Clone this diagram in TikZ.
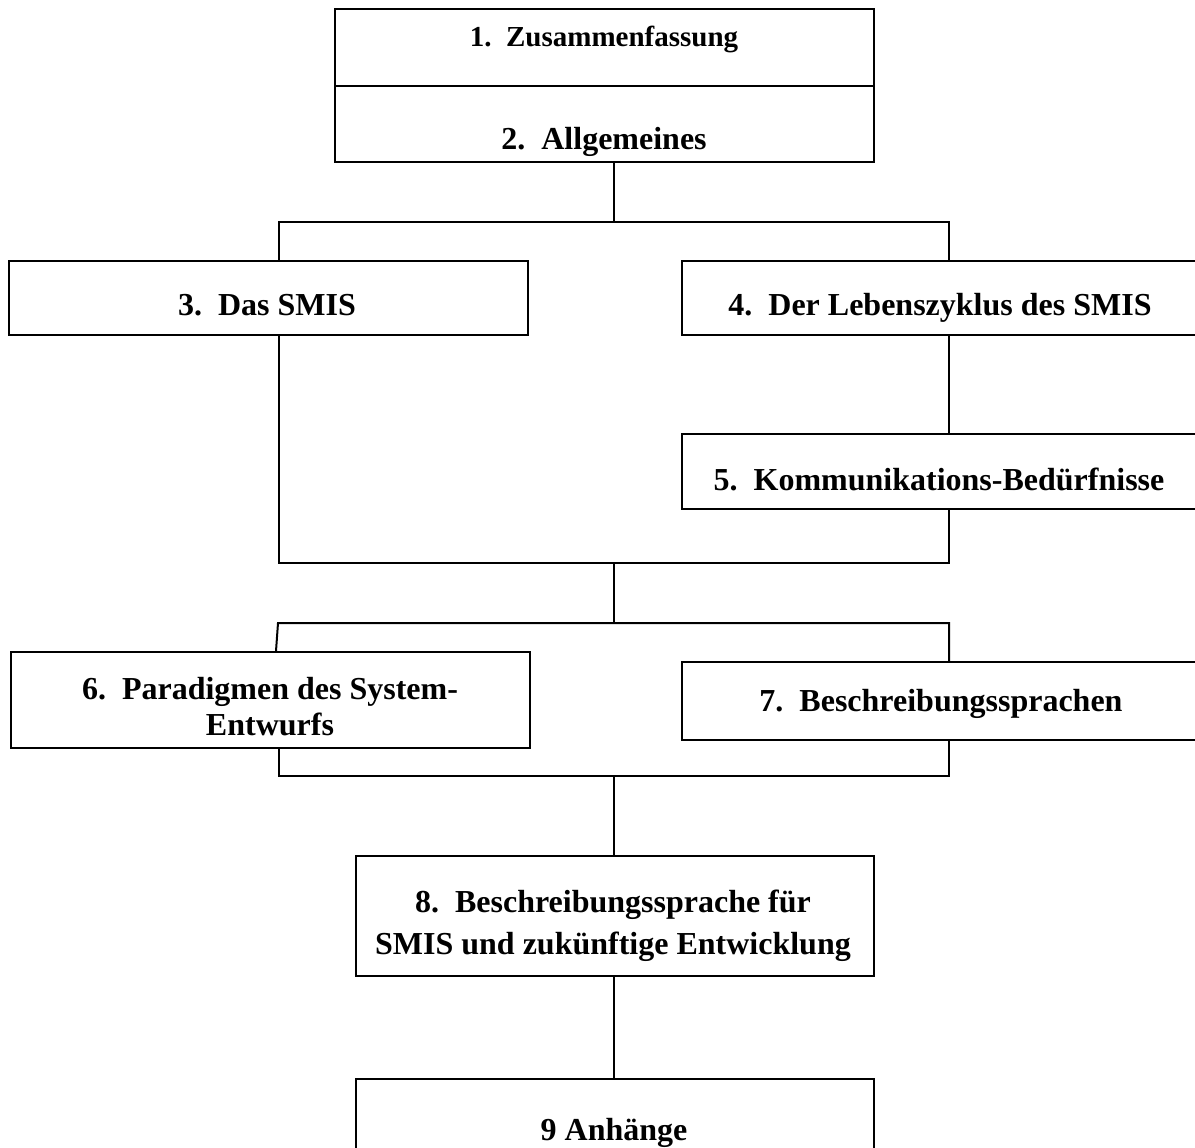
\documentclass[tikz,border=0pt]{standalone}
\usepackage{fontspec}
\setmainfont{Liberation Serif}
\begin{document}
\begin{tikzpicture}[x=1pt,y=-1pt,
  box/.style={draw, line width=2pt, rectangle, inner sep=0pt, anchor=north west},
  lbl/.style={font=\fontsize{32}{38}\selectfont\bfseries, inner sep=0pt, anchor=base},
  link/.style={line width=2pt}]
\useasboundingbox (0,0) rectangle (1195,1148);
\clip (0,0) rectangle (1195,1148);

% chapter boxes
\node[box, minimum width=539pt, minimum height=77pt] (b1) at (334,8) {};
\node[box, minimum width=539pt, minimum height=76pt] (b2) at (334,85) {};
\node[box, minimum width=519pt, minimum height=74pt] (b3) at (8,260) {};
\node[box, minimum width=540pt, minimum height=74pt] (b4) at (681,260) {};
\node[box, minimum width=540pt, minimum height=75pt] (b5) at (681,433) {};
\node[box, minimum width=519pt, minimum height=96pt] (b6) at (10,651) {};
\node[box, minimum width=540pt, minimum height=78pt] (b7) at (681,661) {};
\node[box, minimum width=518pt, minimum height=120pt] (b8) at (355,855) {};
\node[box, minimum width=518pt, minimum height=110pt] (b9) at (355,1078) {};

% chapter titles
\node[lbl, font=\fontsize{29}{34}\selectfont\bfseries] (t1) at (604,47) {1.\enspace Zusammenfassung};
\node[lbl] (t2) at (604,149) {2.\enspace Allgemeines};
\node[lbl] (t3) at (267,315) {3.\enspace Das SMIS};
\node[lbl] (t4) at (940,315) {4.\enspace Der Lebenszyklus des SMIS};
\node[lbl] (t5) at (939,490) {5.\enspace Kommunikations-Bedürfnisse};
\node[lbl] (t6a) at (270,699) {6.\enspace Paradigmen des System-};
\node[lbl] (t6b) at (270,735) {Entwurfs};
\node[lbl] (t7) at (941,711) {7.\enspace Beschreibungssprachen};
\node[lbl] (t8a) at (613,912) {8.\enspace Beschreibungssprache für};
\node[lbl] (t8b) at (613,954) {SMIS und zukünftige Entwicklung};
\node[lbl] (t9) at (614,1140) {9 Anhänge};

% junction points of the tree
\coordinate (ja) at (614,222);
\coordinate (jal) at (279,222);
\coordinate (jar) at (949,222);
\coordinate (jbl) at (279,563);
\coordinate (jbr) at (949,563);
\coordinate (jb) at (614,563);
\coordinate (jc) at (614,623);
\coordinate (jcl) at (278,623);
\coordinate (jcf) at (276,651);
\coordinate (jcr) at (949,623);
\coordinate (jdl) at (279,776);
\coordinate (jdr) at (949,776);
\coordinate (jd) at (614,776);

% connectors
\draw[link] (b2.south -| ja) -- (ja);
\draw[link] (b3.north -| jal) -- (jal) -- (jar) -- (b4.north -| jar);
\draw[link] (b4.south -| jar) -- (b5.north -| jar);
\draw[link] (b3.south -| jbl) -- (jbl) -- (jbr) -- (b5.south -| jbr);
\draw[link] (jb) -- (jc);
\draw[link] (b6.north -| jcf) -- (jcl) -- (jcr) -- (b7.north -| jcr);
\draw[link] (b6.south -| jdl) -- (jdl) -- (jdr) -- (b7.south -| jdr);
\draw[link] (jd) -- (b8.north -| jd);
\draw[link] (b8.south -| jd) -- (b9.north -| jd);
\end{tikzpicture}
\end{document}
